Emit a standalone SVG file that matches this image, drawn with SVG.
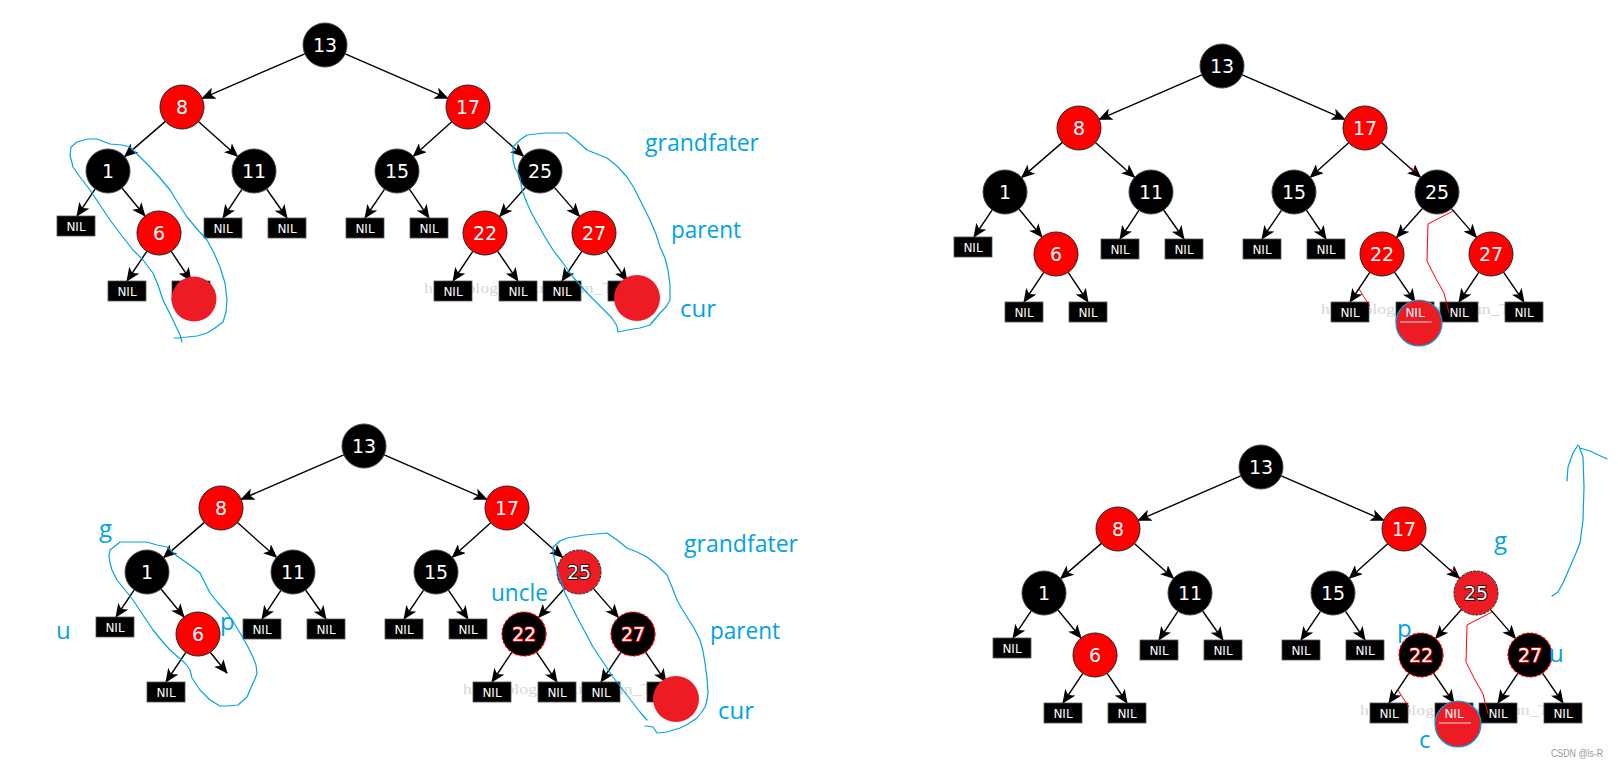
<svg xmlns="http://www.w3.org/2000/svg" width="1618" height="767" viewBox="0 0 1618 767">
<defs>
<marker id="ah" markerUnits="userSpaceOnUse" markerWidth="14" markerHeight="12" viewBox="0 0 14 12" refX="13" refY="6" orient="auto">
<path d="M0,0 L14,6 L0,12 L3.5,6 z" fill="#000"/>
</marker>
<style>
.e{stroke:#000;stroke-width:1.4;fill:none;marker-end:url(#ah)}
.b circle{fill:#000;stroke:#444;stroke-width:1}
.r circle{fill:#f00;stroke:#222;stroke-width:1}
.g circle{fill:#ed1c24;stroke:#222;stroke-width:1;stroke-dasharray:3 1}
.k circle{fill:#000;stroke:#f00;stroke-width:1.2;stroke-dasharray:3 1.5}
.n text{font-family:"DejaVu Sans",sans-serif;font-size:19px;fill:#fff;text-anchor:middle}
.g text{stroke:#000;stroke-width:1.6;paint-order:stroke}
.k text{stroke:#f00;stroke-width:1.6;paint-order:stroke}
.nil rect{fill:#000;stroke:#555;stroke-width:0.8}
.nil text{font-family:"DejaVu Sans",sans-serif;font-size:12px;fill:#fff;text-anchor:middle}
.cur{fill:#ed1c24}
.curb{fill:#ed1c24;stroke:#00a2e8;stroke-width:1.2}
.wm{font-family:"Liberation Serif",serif;font-size:15px;fill:#d6d6d6}
.lbl{font-family:"Open Sans",sans-serif;font-size:24px;fill:#00a2e8}
.las{fill:none;stroke:#00a2e8;stroke-width:1.2;stroke-linejoin:round;stroke-linecap:round}
.red{fill:none;stroke:#f00;stroke-width:1}
</style>
</defs>
<rect width="1618" height="767" fill="#fff"/>

<!-- PANEL 1 -->
<g id="panel1">
<text class="wm" x="424" y="293" textLength="222" lengthAdjust="spacingAndGlyphs">http://blog.csdn.net/Sun_TTTT</text>
<g id="p1-edges">
<line class="e" x1="304.8" y1="53.8" x2="202.2" y2="98.3"/>
<line class="e" x1="345.2" y1="53.8" x2="447.8" y2="98.3"/>
<line class="e" x1="165.4" y1="121.4" x2="124.6" y2="156.6"/>
<line class="e" x1="198.4" y1="121.6" x2="237.6" y2="156.4"/>
<line class="e" x1="451.7" y1="121.7" x2="413.3" y2="156.3"/>
<line class="e" x1="484.4" y1="121.6" x2="523.6" y2="156.4"/>
<line class="e" x1="95.2" y1="188.9" x2="77" y2="216"/>
<line class="e" x1="122" y1="188" x2="145" y2="216"/>
<line class="e" x1="241.9" y1="189.4" x2="223" y2="218"/>
<line class="e" x1="266.6" y1="189" x2="287" y2="218"/>
<line class="e" x1="384.6" y1="189.2" x2="365" y2="218"/>
<line class="e" x1="409.4" y1="189.2" x2="429" y2="218"/>
<line class="e" x1="525.4" y1="187.5" x2="499.6" y2="216.5"/>
<line class="e" x1="554.5" y1="187.6" x2="579.5" y2="216.4"/>
<line class="e" x1="146.8" y1="251.3" x2="127" y2="281"/>
<line class="e" x1="171.2" y1="251.3" x2="191" y2="281"/>
<line class="e" x1="472.8" y1="251.3" x2="453" y2="281"/>
<line class="e" x1="497.5" y1="251.1" x2="518" y2="281"/>
<line class="e" x1="581.8" y1="251.3" x2="562" y2="281"/>
<line class="e" x1="606.5" y1="251.1" x2="627" y2="281"/>
</g>
<g id="p1-n13" class="n b"><circle cx="325" cy="45" r="22"/><text x="325" y="52">13</text></g>
<g id="p1-n8" class="n r"><circle cx="182" cy="107" r="22"/><text x="182" y="114">8</text></g>
<g id="p1-n17" class="n r"><circle cx="468" cy="107" r="22"/><text x="468" y="114">17</text></g>
<g id="p1-n1" class="n b"><circle cx="108" cy="171" r="22"/><text x="108" y="178">1</text></g>
<g id="p1-n11" class="n b"><circle cx="254" cy="171" r="22"/><text x="254" y="178">11</text></g>
<g id="p1-n15" class="n b"><circle cx="397" cy="171" r="22"/><text x="397" y="178">15</text></g>
<g id="p1-n25" class="n b"><circle cx="540" cy="171" r="22"/><text x="540" y="178">25</text></g>
<g id="p1-n6" class="n r"><circle cx="159" cy="233" r="22"/><text x="159" y="240">6</text></g>
<g id="p1-n22" class="n r"><circle cx="485" cy="233" r="22"/><text x="485" y="240">22</text></g>
<g id="p1-n27" class="n r"><circle cx="594" cy="233" r="22"/><text x="594" y="240">27</text></g>
<g id="p1-nil1" class="nil"><rect x="57" y="216" width="38" height="20"/><text x="76" y="230.5">NIL</text></g>
<g id="p1-nil2" class="nil"><rect x="204" y="218" width="38" height="20"/><text x="223" y="232.5">NIL</text></g>
<g id="p1-nil3" class="nil"><rect x="268" y="218" width="38" height="20"/><text x="287" y="232.5">NIL</text></g>
<g id="p1-nil4" class="nil"><rect x="346" y="218" width="38" height="20"/><text x="365" y="232.5">NIL</text></g>
<g id="p1-nil5" class="nil"><rect x="410" y="218" width="38" height="20"/><text x="429" y="232.5">NIL</text></g>
<g id="p1-nil6" class="nil"><rect x="108" y="281" width="38" height="20"/><text x="127" y="295.5">NIL</text></g>
<g id="p1-nil7" class="nil"><rect x="172" y="281" width="38" height="20"/><text x="191" y="295.5">NIL</text></g>
<g id="p1-nil8" class="nil"><rect x="434" y="281" width="38" height="20"/><text x="453" y="295.5">NIL</text></g>
<g id="p1-nil9" class="nil"><rect x="499" y="281" width="38" height="20"/><text x="518" y="295.5">NIL</text></g>
<g id="p1-nil10" class="nil"><rect x="543" y="281" width="38" height="20"/><text x="562" y="295.5">NIL</text></g>
<g id="p1-nil11" class="nil"><rect x="608" y="281" width="38" height="20"/><text x="627" y="295.5">NIL</text></g>
<g id="p1-cur1"><circle class="cur" cx="194" cy="299" r="22.5"/></g>
<g id="p1-cur2"><circle class="cur" cx="637" cy="298" r="23"/></g>
</g>

<!-- PANEL 2 -->
<g id="panel2" transform="translate(897,21)">
<text class="wm" x="424" y="293" textLength="222" lengthAdjust="spacingAndGlyphs">http://blog.csdn.net/Sun_TTTT</text>
<g id="p2-edges">
<line class="e" x1="304.8" y1="53.8" x2="202.2" y2="98.3"/>
<line class="e" x1="345.2" y1="53.8" x2="447.8" y2="98.3"/>
<line class="e" x1="165.4" y1="121.4" x2="124.6" y2="156.6"/>
<line class="e" x1="198.4" y1="121.6" x2="237.6" y2="156.4"/>
<line class="e" x1="451.7" y1="121.7" x2="413.3" y2="156.3"/>
<line class="e" x1="484.4" y1="121.6" x2="523.6" y2="156.4"/>
<line class="e" x1="95.2" y1="188.9" x2="77" y2="216"/>
<line class="e" x1="122" y1="188" x2="145" y2="216"/>
<line class="e" x1="241.9" y1="189.4" x2="223" y2="218"/>
<line class="e" x1="266.6" y1="189" x2="287" y2="218"/>
<line class="e" x1="384.6" y1="189.2" x2="365" y2="218"/>
<line class="e" x1="409.4" y1="189.2" x2="429" y2="218"/>
<line class="e" x1="525.4" y1="187.5" x2="499.6" y2="216.5"/>
<line class="e" x1="554.5" y1="187.6" x2="579.5" y2="216.4"/>
<line class="e" x1="146.8" y1="251.3" x2="127" y2="281"/>
<line class="e" x1="171.2" y1="251.3" x2="191" y2="281"/>
<line class="e" x1="472.8" y1="251.3" x2="453" y2="281"/>
<line class="e" x1="497.5" y1="251.1" x2="518" y2="281"/>
<line class="e" x1="581.8" y1="251.3" x2="562" y2="281"/>
<line class="e" x1="606.5" y1="251.1" x2="627" y2="281"/>
</g>
<g id="p2-n13" class="n b"><circle cx="325" cy="45" r="22"/><text x="325" y="52">13</text></g>
<g id="p2-n8" class="n r"><circle cx="182" cy="107" r="22"/><text x="182" y="114">8</text></g>
<g id="p2-n17" class="n r"><circle cx="468" cy="107" r="22"/><text x="468" y="114">17</text></g>
<g id="p2-n1" class="n b"><circle cx="108" cy="171" r="22"/><text x="108" y="178">1</text></g>
<g id="p2-n11" class="n b"><circle cx="254" cy="171" r="22"/><text x="254" y="178">11</text></g>
<g id="p2-n15" class="n b"><circle cx="397" cy="171" r="22"/><text x="397" y="178">15</text></g>
<g id="p2-n25" class="n b"><circle cx="540" cy="171" r="22"/><text x="540" y="178">25</text></g>
<g id="p2-n6" class="n r"><circle cx="159" cy="233" r="22"/><text x="159" y="240">6</text></g>
<g id="p2-n22" class="n r"><circle cx="485" cy="233" r="22"/><text x="485" y="240">22</text></g>
<g id="p2-n27" class="n r"><circle cx="594" cy="233" r="22"/><text x="594" y="240">27</text></g>
<g id="p2-nil1" class="nil"><rect x="57" y="216" width="38" height="20"/><text x="76" y="230.5">NIL</text></g>
<g id="p2-nil2" class="nil"><rect x="204" y="218" width="38" height="20"/><text x="223" y="232.5">NIL</text></g>
<g id="p2-nil3" class="nil"><rect x="268" y="218" width="38" height="20"/><text x="287" y="232.5">NIL</text></g>
<g id="p2-nil4" class="nil"><rect x="346" y="218" width="38" height="20"/><text x="365" y="232.5">NIL</text></g>
<g id="p2-nil5" class="nil"><rect x="410" y="218" width="38" height="20"/><text x="429" y="232.5">NIL</text></g>
<g id="p2-nil6" class="nil"><rect x="108" y="281" width="38" height="20"/><text x="127" y="295.5">NIL</text></g>
<g id="p2-nil7" class="nil"><rect x="172" y="281" width="38" height="20"/><text x="191" y="295.5">NIL</text></g>
<g id="p2-nil8" class="nil"><rect x="434" y="281" width="38" height="20"/><text x="453" y="295.5">NIL</text></g>
<g id="p2-nil10" class="nil"><rect x="543" y="281" width="38" height="20"/><text x="562" y="295.5">NIL</text></g>
<g id="p2-nil11" class="nil"><rect x="608" y="281" width="38" height="20"/><text x="627" y="295.5">NIL</text></g>
<g id="p2-nil9" class="nil"><rect x="499" y="281" width="38" height="20"/><circle class="curb" cx="522" cy="302" r="23"/><text x="518" y="295.5">NIL</text><line x1="503" y1="301" x2="535" y2="301" stroke="#ddd" stroke-width="1"/></g>
<g id="p2-marks">
<path class="red" d="M556,190 L531,203 L530,240 L538,256 L547,272 L552,292"/>
<path class="red" d="M462,268 L467,276 L473,285"/>
<path class="red" d="M514,147 L520,150"/>
</g>
</g>

<!-- PANEL 3 -->
<g id="panel3" transform="translate(39,401)">
<text class="wm" x="424" y="293" textLength="222" lengthAdjust="spacingAndGlyphs">http://blog.csdn.net/Sun_TTTT</text>
<g id="p3-edges">
<line class="e" x1="304.8" y1="53.8" x2="202.2" y2="98.3"/>
<line class="e" x1="345.2" y1="53.8" x2="447.8" y2="98.3"/>
<line class="e" x1="165.4" y1="121.4" x2="124.6" y2="156.6"/>
<line class="e" x1="198.4" y1="121.6" x2="237.6" y2="156.4"/>
<line class="e" x1="451.7" y1="121.7" x2="413.3" y2="156.3"/>
<line class="e" x1="484.4" y1="121.6" x2="523.6" y2="156.4"/>
<line class="e" x1="95.2" y1="188.9" x2="77" y2="216"/>
<line class="e" x1="122" y1="188" x2="145" y2="216"/>
<line class="e" x1="241.9" y1="189.4" x2="223" y2="218"/>
<line class="e" x1="266.6" y1="189" x2="287" y2="218"/>
<line class="e" x1="384.6" y1="189.2" x2="365" y2="218"/>
<line class="e" x1="409.4" y1="189.2" x2="429" y2="218"/>
<line class="e" x1="525.4" y1="187.5" x2="499.6" y2="216.5"/>
<line class="e" x1="554.5" y1="187.6" x2="579.5" y2="216.4"/>
<line class="e" x1="146.8" y1="251.3" x2="127" y2="281"/>
<line class="e" x1="171.2" y1="251.3" x2="188" y2="272"/>
<line class="e" x1="472.8" y1="251.3" x2="453" y2="281"/>
<line class="e" x1="497.5" y1="251.1" x2="518" y2="281"/>
<line class="e" x1="581.8" y1="251.3" x2="562" y2="281"/>
<line class="e" x1="606.5" y1="251.1" x2="627" y2="281"/>
</g>
<g id="p3-n13" class="n b"><circle cx="325" cy="45" r="22"/><text x="325" y="52">13</text></g>
<g id="p3-n8" class="n r"><circle cx="182" cy="107" r="22"/><text x="182" y="114">8</text></g>
<g id="p3-n17" class="n r"><circle cx="468" cy="107" r="22"/><text x="468" y="114">17</text></g>
<g id="p3-n1" class="n b"><circle cx="108" cy="171" r="22"/><text x="108" y="178">1</text></g>
<g id="p3-n11" class="n b"><circle cx="254" cy="171" r="22"/><text x="254" y="178">11</text></g>
<g id="p3-n15" class="n b"><circle cx="397" cy="171" r="22"/><text x="397" y="178">15</text></g>
<g id="p3-n25" class="n g"><circle cx="540" cy="171" r="22"/><text x="540" y="178">25</text></g>
<g id="p3-n6" class="n r"><circle cx="159" cy="233" r="22"/><text x="159" y="240">6</text></g>
<g id="p3-n22" class="n k"><circle cx="485" cy="233" r="22"/><text x="485" y="240">22</text></g>
<g id="p3-n27" class="n k"><circle cx="594" cy="233" r="22"/><text x="594" y="240">27</text></g>
<g id="p3-nil1" class="nil"><rect x="57" y="216" width="38" height="20"/><text x="76" y="230.5">NIL</text></g>
<g id="p3-nil2" class="nil"><rect x="204" y="218" width="38" height="20"/><text x="223" y="232.5">NIL</text></g>
<g id="p3-nil3" class="nil"><rect x="268" y="218" width="38" height="20"/><text x="287" y="232.5">NIL</text></g>
<g id="p3-nil4" class="nil"><rect x="346" y="218" width="38" height="20"/><text x="365" y="232.5">NIL</text></g>
<g id="p3-nil5" class="nil"><rect x="410" y="218" width="38" height="20"/><text x="429" y="232.5">NIL</text></g>
<g id="p3-nil6" class="nil"><rect x="108" y="281" width="38" height="20"/><text x="127" y="295.5">NIL</text></g>
<g id="p3-nil8" class="nil"><rect x="434" y="281" width="38" height="20"/><text x="453" y="295.5">NIL</text></g>
<g id="p3-nil9" class="nil"><rect x="499" y="281" width="38" height="20"/><text x="518" y="295.5">NIL</text></g>
<g id="p3-nil10" class="nil"><rect x="543" y="281" width="38" height="20"/><text x="562" y="295.5">NIL</text></g>
<g id="p3-nil11" class="nil"><rect x="608" y="281" width="38" height="20"/><text x="627" y="295.5">NIL</text></g>
<g id="p3-cur"><circle class="cur" cx="637" cy="298" r="23"/></g>
</g>

<!-- PANEL 4 -->
<g id="panel4" transform="translate(936,422)">
<text class="wm" x="424" y="293" textLength="222" lengthAdjust="spacingAndGlyphs">http://blog.csdn.net/Sun_TTTT</text>
<g id="p4-edges">
<line class="e" x1="304.8" y1="53.8" x2="202.2" y2="98.3"/>
<line class="e" x1="345.2" y1="53.8" x2="447.8" y2="98.3"/>
<line class="e" x1="165.4" y1="121.4" x2="124.6" y2="156.6"/>
<line class="e" x1="198.4" y1="121.6" x2="237.6" y2="156.4"/>
<line class="e" x1="451.7" y1="121.7" x2="413.3" y2="156.3"/>
<line class="e" x1="484.4" y1="121.6" x2="523.6" y2="156.4"/>
<line class="e" x1="95.2" y1="188.9" x2="77" y2="216"/>
<line class="e" x1="122" y1="188" x2="145" y2="216"/>
<line class="e" x1="241.9" y1="189.4" x2="223" y2="218"/>
<line class="e" x1="266.6" y1="189" x2="287" y2="218"/>
<line class="e" x1="384.6" y1="189.2" x2="365" y2="218"/>
<line class="e" x1="409.4" y1="189.2" x2="429" y2="218"/>
<line class="e" x1="525.4" y1="187.5" x2="499.6" y2="216.5"/>
<line class="e" x1="554.5" y1="187.6" x2="579.5" y2="216.4"/>
<line class="e" x1="146.8" y1="251.3" x2="127" y2="281"/>
<line class="e" x1="171.2" y1="251.3" x2="191" y2="281"/>
<line class="e" x1="472.8" y1="251.3" x2="453" y2="281"/>
<line class="e" x1="497.5" y1="251.1" x2="518" y2="281"/>
<line class="e" x1="581.8" y1="251.3" x2="562" y2="281"/>
<line class="e" x1="606.5" y1="251.1" x2="627" y2="281"/>
</g>
<g id="p4-n13" class="n b"><circle cx="325" cy="45" r="22"/><text x="325" y="52">13</text></g>
<g id="p4-n8" class="n r"><circle cx="182" cy="107" r="22"/><text x="182" y="114">8</text></g>
<g id="p4-n17" class="n r"><circle cx="468" cy="107" r="22"/><text x="468" y="114">17</text></g>
<g id="p4-n1" class="n b"><circle cx="108" cy="171" r="22"/><text x="108" y="178">1</text></g>
<g id="p4-n11" class="n b"><circle cx="254" cy="171" r="22"/><text x="254" y="178">11</text></g>
<g id="p4-n15" class="n b"><circle cx="397" cy="171" r="22"/><text x="397" y="178">15</text></g>
<g id="p4-n25" class="n g"><circle cx="540" cy="171" r="22"/><text x="540" y="178">25</text></g>
<g id="p4-n6" class="n r"><circle cx="159" cy="233" r="22"/><text x="159" y="240">6</text></g>
<g id="p4-n22" class="n k"><circle cx="485" cy="233" r="22"/><text x="485" y="240">22</text></g>
<g id="p4-n27" class="n k"><circle cx="594" cy="233" r="22"/><text x="594" y="240">27</text></g>
<g id="p4-nil1" class="nil"><rect x="57" y="216" width="38" height="20"/><text x="76" y="230.5">NIL</text></g>
<g id="p4-nil2" class="nil"><rect x="204" y="218" width="38" height="20"/><text x="223" y="232.5">NIL</text></g>
<g id="p4-nil3" class="nil"><rect x="268" y="218" width="38" height="20"/><text x="287" y="232.5">NIL</text></g>
<g id="p4-nil4" class="nil"><rect x="346" y="218" width="38" height="20"/><text x="365" y="232.5">NIL</text></g>
<g id="p4-nil5" class="nil"><rect x="410" y="218" width="38" height="20"/><text x="429" y="232.5">NIL</text></g>
<g id="p4-nil6" class="nil"><rect x="108" y="281" width="38" height="20"/><text x="127" y="295.5">NIL</text></g>
<g id="p4-nil7" class="nil"><rect x="172" y="281" width="38" height="20"/><text x="191" y="295.5">NIL</text></g>
<g id="p4-nil8" class="nil"><rect x="434" y="281" width="38" height="20"/><text x="453" y="295.5">NIL</text></g>
<g id="p4-nil10" class="nil"><rect x="543" y="281" width="38" height="20"/><text x="562" y="295.5">NIL</text></g>
<g id="p4-nil11" class="nil"><rect x="608" y="281" width="38" height="20"/><text x="627" y="295.5">NIL</text></g>
<g id="p4-nil9" class="nil"><rect x="499" y="281" width="38" height="20"/><circle class="curb" cx="522" cy="302" r="23"/><text x="518" y="295.5">NIL</text><line x1="503" y1="301" x2="535" y2="301" stroke="#ddd" stroke-width="1"/></g>
<g id="p4-marks">
<path class="red" d="M556,190 L531,203 L530,240 L538,256 L547,272 L552,292"/>
<path class="red" d="M462,268 L467,276 L473,285"/>
<path class="red" d="M514,147 L520,150"/>
</g>
</g>

<!-- Annotations -->
<g id="annotations">
<path class="las" d="M182,342 L180,335 L172,318 L163,300 L158,285 L153,273 L143,260 L133,250 L122,236 L110,220 L100,205 L90,190 L80,177 L73,167 L70,155 L71,147 L77,142 L88,139 L97,139 L110,144 L122,145 L130,147 L140,157 L150,167 L160,178 L170,190 L178,203 L187,217 L197,229 L207,240 L214,253 L220,267 L225,283 L227,300 L226,312 L223,322 L215,328 L207,333 L197,336 L187,337 L174,338"/>
<path class="las" d="M513,160 L513,147 L520,140 L527,135 L545,133 L567,133 L577,141 L587,150 L607,158 L617,166 L627,177 L634,188 L640,200 L645,210 L650,220 L656,234 L660,247 L665,258 L668,270 L670,285 L670,300 L666,307 L660,313 L650,325 L640,328 L633,329 L618,332 L617,326 L612,318 L607,313 L597,303 L587,293 L580,285 L573,277 L563,263 L553,250 L545,237 L537,223 L531,212 L527,203 L522,190 L520,177 L515,168 L513,160"/>
<path class="las" d="M110,550 L120,542 L133,542 L147,542 L157,545 L167,547 L177,556 L187,563 L194,568 L200,573 L205,583 L210,593 L218,603 L227,613 L234,623 L240,633 L247,645 L253,657 L256,665 L257,673 L255,679 L253,683 L250,690 L247,697 L238,705 L228,706 L220,706 L210,700 L200,690 L192,678 L190,670 L185,663 L178,657 L170,650 L162,641 L153,630 L143,615 L133,600 L125,590 L117,580 L112,570 L110,563 L109,556 L110,550"/>
<path class="las" d="M553,553 L553,547 L560,541 L567,538 L585,535 L607,533 L617,540 L627,548 L637,552 L647,557 L657,565 L667,575 L672,587 L677,600 L682,609 L687,617 L694,628 L700,640 L703,651 L705,663 L707,678 L708,693 L707,700 L705,707 L701,713 L697,718 L688,724 L680,728 L667,732 L657,733 L653,727 L645,726 M647,720 L640,712 L633,703 L623,690 L613,677 L603,662 L593,647 L585,632 L577,617 L571,605 L565,593 L561,582 L557,570 L555,561 L553,553"/>
<path class="las" d="M1552,596 L1558,592 L1563,583 L1570,567 L1576,553 L1580,543 L1583,520 L1584,487 L1583,457 L1579,446 M1578,445 L1573,453 L1568,467 L1567,481 M1580,448 L1590,451 L1607,459"/>
<text class="lbl" x="645" y="151" textLength="114" lengthAdjust="spacingAndGlyphs">grandfater</text>
<text class="lbl" x="671" y="238" textLength="70" lengthAdjust="spacingAndGlyphs">parent</text>
<text class="lbl" x="680" y="317">cur</text>
<text class="lbl" x="99" y="537">g</text>
<text class="lbl" x="56" y="639">u</text>
<text class="lbl" x="220" y="630">p</text>
<text class="lbl" x="491" y="601" textLength="57" lengthAdjust="spacingAndGlyphs">uncle</text>
<text class="lbl" x="684" y="552" textLength="114" lengthAdjust="spacingAndGlyphs">grandfater</text>
<text class="lbl" x="710" y="639" textLength="70" lengthAdjust="spacingAndGlyphs">parent</text>
<text class="lbl" x="718" y="719">cur</text>
<text class="lbl" x="1494" y="549">g</text>
<text class="lbl" x="1397" y="637">p</text>
<text class="lbl" x="1549" y="662">u</text>
<text class="lbl" x="1419" y="748">c</text>
<text x="1551" y="757" font-family="Liberation Sans, sans-serif" font-size="10" fill="#999" textLength="52" lengthAdjust="spacingAndGlyphs">CSDN @ls-R</text>
</g>
</svg>
